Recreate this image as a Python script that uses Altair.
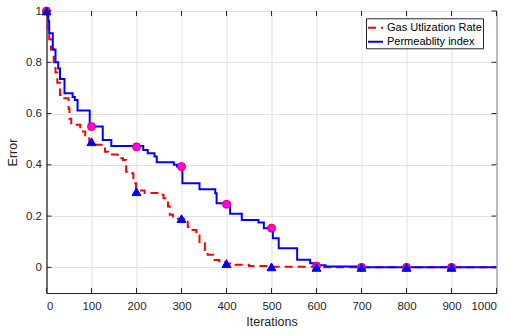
import altair as alt
import pandas as pd

series_names = ["Gas Utlization Rate", "Permeablity index"]

# Gas Utlization Rate (red dashed, step line): iteration breakpoints and values
gas_iter = [0, 2, 6, 10, 16, 20, 24, 30, 34, 49, 51, 55, 75, 86, 95, 104, 130, 137,
            158, 170, 177, 186, 193, 199, 218, 255, 260, 264, 270, 274, 281, 314,
            322, 333, 340, 352, 358, 370, 384, 400, 420, 450, 500, 600, 1000]
gas_val = [1.0, 0.93, 0.89, 0.85, 0.80, 0.76, 0.72, 0.672, 0.66, 0.62, 0.58, 0.556,
           0.53, 0.51, 0.49, 0.478, 0.451, 0.44, 0.426, 0.419, 0.373, 0.367, 0.328,
           0.30, 0.29, 0.283, 0.27, 0.263, 0.237, 0.205, 0.19, 0.157, 0.146, 0.125,
           0.094, 0.068, 0.049, 0.029, 0.02, 0.015, 0.01, 0.005, 0.002, 0.0, 0.0]

# Permeablity index (blue solid, step line)
perm_iter = [0, 4, 6, 14, 20, 26, 30, 40, 58, 63, 69, 96, 125, 144, 215, 225, 240,
             245, 283, 290, 302, 340, 375, 378, 408, 434, 471, 483, 503, 516, 557,
             586, 600, 620, 700, 1000]
perm_val = [1.0, 0.96, 0.913, 0.85, 0.80, 0.776, 0.735, 0.679, 0.665, 0.653, 0.612,
            0.549, 0.497, 0.473, 0.458, 0.445, 0.432, 0.41, 0.40, 0.393, 0.328, 0.305,
            0.289, 0.25, 0.209, 0.185, 0.175, 0.153, 0.114, 0.075, 0.03, 0.016, 0.008,
            0.003, 0.0, 0.0]

# Markers every 100 iterations
marker_iter = [0, 100, 200, 300, 400, 500, 600, 700, 800, 900]
circle_vals = [1.0, 0.549, 0.47, 0.393, 0.246, 0.153, 0.005, 0.0, 0.0, 0.0]
triangle_vals = [1.0, 0.49, 0.295, 0.19, 0.015, 0.002, 0.0, 0.0, 0.0, 0.0]

x_ticks = [0, 100, 200, 300, 400, 500, 600, 700, 800, 900, 1000]
y_ticks = [0, 0.2, 0.4, 0.6, 0.8, 1.0]

lines_df = pd.concat([
    pd.DataFrame({"series": series_names[0], "iter": gas_iter, "value": gas_val}),
    pd.DataFrame({"series": series_names[1], "iter": perm_iter, "value": perm_val}),
])
circ_df = pd.DataFrame({"iter": marker_iter, "value": circle_vals})
tri_df = pd.DataFrame({"iter": marker_iter, "value": triangle_vals})
xt_df = pd.DataFrame({"iter": x_ticks})
yt_df = pd.DataFrame({"value": y_ticks})

FONT = "Liberation Sans"
AX = "#262626"

X = alt.X("iter:Q", scale=alt.Scale(domain=[0, 1000], nice=False, zero=False),
          axis=alt.Axis(values=x_ticks, title="Iterations", grid=True, ticks=False,
                        format="d", labelPadding=7, titlePadding=4))
Y = alt.Y("value:Q", scale=alt.Scale(domain=[-0.1, 1.0], nice=False, zero=False),
          axis=alt.Axis(values=y_ticks, title="Error", grid=True, ticks=False,
                        format="~g", labelPadding=5, titlePadding=6))

lines = alt.Chart(lines_df).mark_line(interpolate="step-after", strokeWidth=2, clip=True).encode(
    x=X, y=Y,
    color=alt.Color("series:N",
                    scale=alt.Scale(domain=series_names, range=["#ff0000", "#0000ff"]),
                    legend=alt.Legend(title=None)),
    strokeDash=alt.StrokeDash("series:N",
                              scale=alt.Scale(domain=series_names, range=[[8, 5], [1, 0]]),
                              legend=alt.Legend(title=None)),
)

circles = alt.Chart(circ_df).mark_point(shape="circle", filled=True, size=64,
                                        fill="#ff00ff", stroke="#ff0000",
                                        strokeWidth=1, opacity=1).encode(x=X, y=Y)
triangles = alt.Chart(tri_df).mark_point(shape="triangle-up", filled=True, size=80,
                                         fill="#0000ff", stroke="#0000ff",
                                         strokeWidth=1, opacity=1).encode(x=X, y=Y)

tick_bottom = alt.Chart(xt_df).mark_rule(color=AX, strokeWidth=1).encode(
    x=X, y=alt.value(282), y2=alt.value(277))
tick_top = alt.Chart(xt_df).mark_rule(color=AX, strokeWidth=1).encode(
    x=X, y=alt.value(0), y2=alt.value(5))
tick_left = alt.Chart(yt_df).mark_rule(color=AX, strokeWidth=1).encode(
    y=Y, x=alt.value(0), x2=alt.value(5))
tick_right = alt.Chart(yt_df).mark_rule(color=AX, strokeWidth=1).encode(
    y=Y, x=alt.value(445), x2=alt.value(450))

chart = alt.layer(lines, circles, triangles, tick_bottom, tick_top, tick_left, tick_right).properties(
    width=450, height=282,
    autosize=alt.AutoSizeParams(type="none"),
    padding={"left": 46.5, "top": 11, "right": 14.5, "bottom": 42},
    background="white",
).configure_axis(
    labelFont=FONT, labelFontSize=11.5, labelColor=AX,
    titleFont=FONT, titleFontSize=12.5, titleFontWeight="normal", titleColor=AX,
    domainColor=AX, domainWidth=1, gridColor="#e2e2e2", gridWidth=1,
).configure_view(
    stroke=AX, strokeWidth=1,
).configure_legend(
    orient="none", legendX=319.5, legendY=7.3,
    strokeColor=AX, fillColor="white", padding=1, cornerRadius=0,
    symbolType="stroke", symbolSize=225, symbolStrokeWidth=2,
    labelFont=FONT, labelFontSize=11, labelColor="#000000", labelOffset=3,
    rowPadding=0,
)

chart.save("out.html", embed_options={"renderer": "svg", "actions": False})
